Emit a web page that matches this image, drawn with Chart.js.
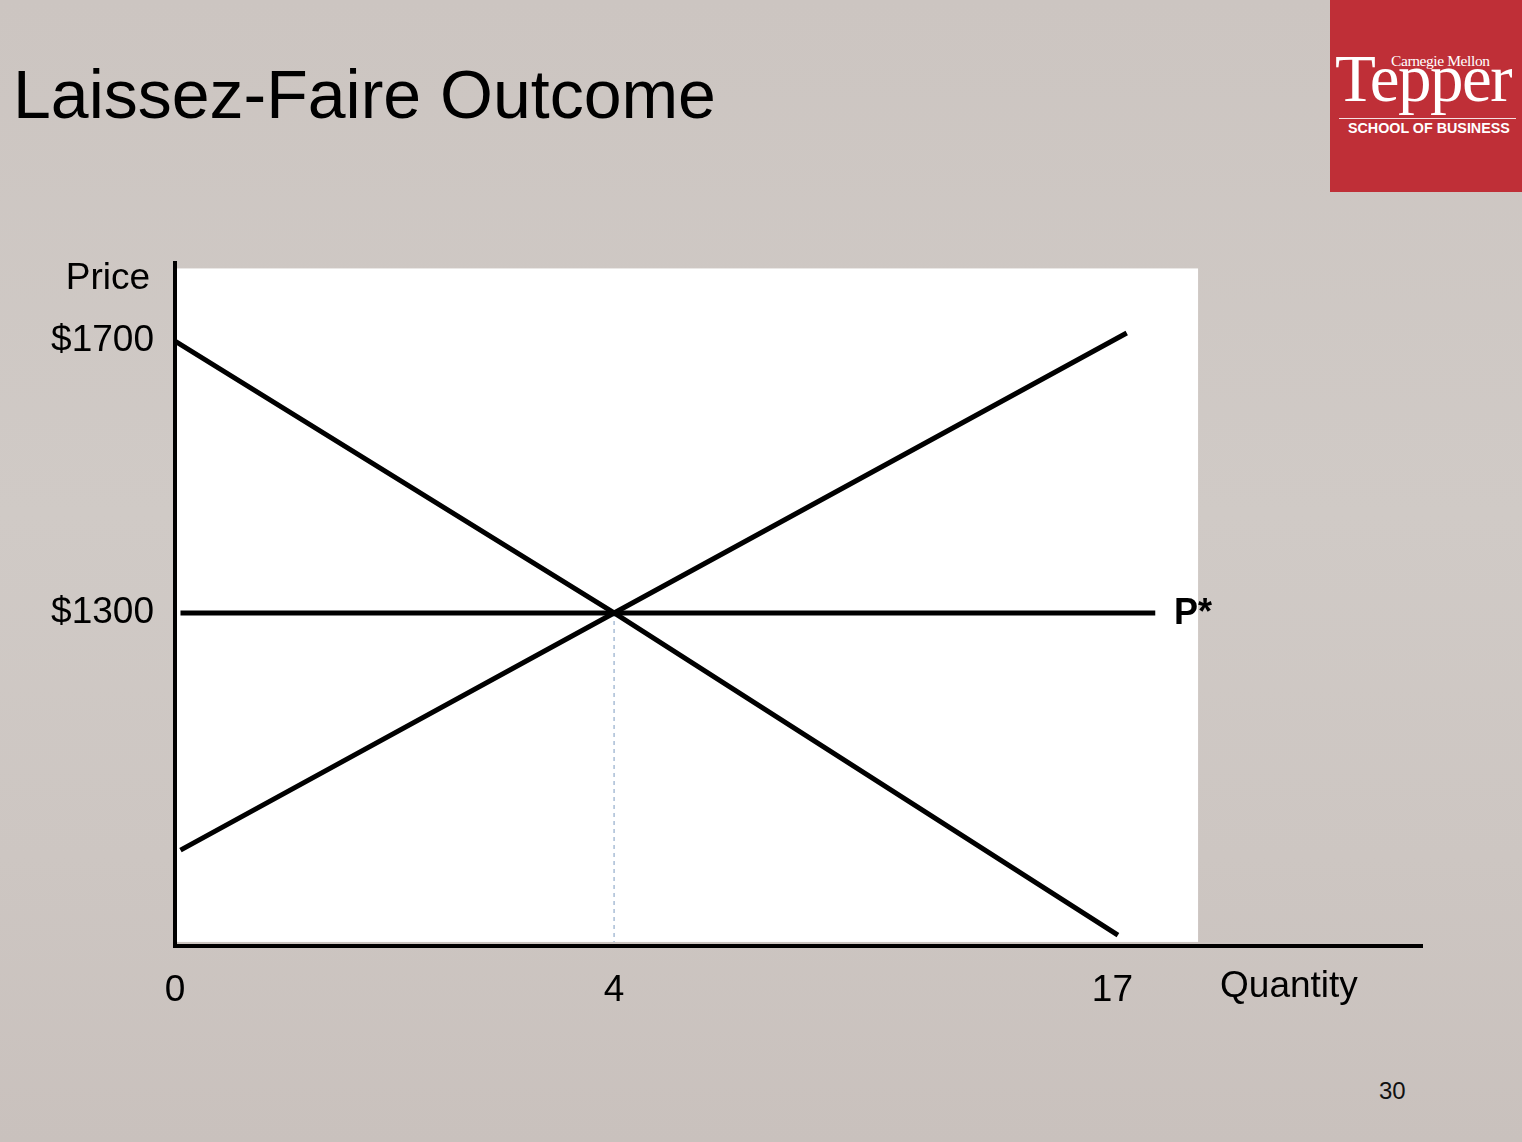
<!DOCTYPE html>
<html>
<head>
<meta charset="utf-8">
<script src="https://cdn.jsdelivr.net/npm/chart.js@4/dist/chart.umd.min.js"></script>
<style>
  html, body { margin: 0; padding: 0; width: 1522px; height: 1142px; overflow: hidden; }
  body {
    position: relative;
    background: linear-gradient(180deg, #ccc5c1 0%, #d0cac6 45%, #cdc6c2 75%, #c9c1bd 100%);
    font-family: "Liberation Sans", Arial, Helvetica, sans-serif;
  }
  .abs { position: absolute; white-space: nowrap; }
  #title { left: 13px; top: 60px; font-size: 68px; line-height: 68px; color: #000; }
  #page { left: 1379px; top: 1079px; font-size: 24px; line-height: 24px; color: #111; }
  #logo { left: 1330px; top: 0; width: 192px; height: 192px; background: #bf2f37; }
  #tepper { left: 1335px; top: 45px; font-family: "Liberation Serif", "Times New Roman", serif; font-size: 67px; line-height: 67px; color: #fff; letter-spacing: -1.5px; }
  #cmu { left: 1391px; top: 53px; font-family: "Liberation Serif", "Times New Roman", serif; font-size: 15.5px; line-height: 15px; color: #fff; letter-spacing: -0.4px; }
  #rule { left: 1339px; top: 118px; width: 177px; height: 1px; background: rgba(255,255,255,0.85); }
  #school { left: 1348px; top: 121px; font-size: 14.3px; line-height: 14px; font-weight: bold; color: #fff; }
  #chart { position: absolute; left: 0; top: 0; }
</style>
</head>
<body>
<div id="title" class="abs">Laissez-Faire Outcome</div>
<div id="logo" class="abs"></div>
<div id="tepper" class="abs">Tepper</div>
<div id="cmu" class="abs">Carnegie Mellon</div>
<div id="rule" class="abs"></div>
<div id="school" class="abs">SCHOOL OF BUSINESS</div>
<div id="page" class="abs">30</div>
<canvas id="chart" width="1522" height="1142"></canvas>
<script>
// ---- Data (diagram positions along the quantity axis, prices in $) ----
const demandQ = [0, 4, 8.59];
const demandP = [1700, 1300, 826];
const supplyQ = [0.05, 4, 8.67];
const supplyP = [951, 1300, 1712];
const priceLineQ = [0.05, 8.93];
const priceLineP = [1300, 1300];
const equilibriumQ = [4, 4];
const equilibriumP = [1300, 816];

const xTickValues = [0, 4, 8.54];
const xTickLabels = ["0", "4", "17"];
const yTickValues = [1300, 1700];
const yTickLabels = ["$1300", "$1700"];

const xAxisName = "Quantity";
const yAxisName = "Price";
const priceLabel = "P*";

function pts(qs, ps) { return qs.map((q, i) => ({ x: q, y: ps[i] })); }

const FONT = '"Liberation Sans", Arial, Helvetica, sans-serif';

const panelPlugin = {
  id: 'panel',
  beforeDraw(chart) {
    const { ctx, scales: { x, y } } = chart;
    const x0 = x.getPixelForValue(0) + 1;
    const x1 = x.getPixelForValue(9.32);
    const y0 = y.getPixelForValue(1807);
    const y1 = y.getPixelForValue(816);
    ctx.save();
    ctx.fillStyle = '#ffffff';
    ctx.fillRect(x0, y0, x1 - x0, y1 - y0);
    ctx.restore();
  },
  afterDraw(chart) {
    const { ctx, scales: { x, y } } = chart;
    ctx.save();
    ctx.fillStyle = '#000';
    ctx.textBaseline = 'middle';
    ctx.font = '37px ' + FONT;
    ctx.textAlign = 'right';
    ctx.fillText(yAxisName, 150, y.getPixelForValue(1792));
    ctx.textAlign = 'left';
    ctx.fillText(xAxisName, x.getPixelForValue(9.52), 987);
    ctx.font = 'bold 36px ' + FONT;
    ctx.fillText(priceLabel, x.getPixelForValue(9.1), y.getPixelForValue(1298));
    ctx.restore();
  }
};

new Chart(document.getElementById('chart'), {
  type: 'scatter',
  data: {
    datasets: [
      {
        label: 'Equilibrium quantity',
        data: pts(equilibriumQ, equilibriumP),
        showLine: true,
        borderColor: '#a8bdd6',
        borderWidth: 1.5,
        borderDash: [4, 4],
        pointRadius: 0,
        order: 4
      },
      {
        label: 'P*',
        data: pts(priceLineQ, priceLineP),
        showLine: true,
        borderColor: '#000',
        borderWidth: 5,
        pointRadius: 0,
        order: 3
      },
      {
        label: 'Demand',
        data: pts(demandQ, demandP),
        showLine: true,
        borderColor: '#000',
        borderWidth: 5,
        pointRadius: 0,
        tension: 0,
        order: 2
      },
      {
        label: 'Supply',
        data: pts(supplyQ, supplyP),
        showLine: true,
        borderColor: '#000',
        borderWidth: 5,
        pointRadius: 0,
        tension: 0,
        order: 1
      }
    ]
  },
  options: {
    responsive: false,
    animation: false,
    events: [],
    layout: { padding: { left: 0, top: 263, right: 100, bottom: 0 } },
    plugins: { legend: { display: false }, tooltip: { enabled: false } },
    scales: {
      x: {
        type: 'linear',
        min: 0,
        max: 11.36,
        grid: { display: false, drawTicks: false },
        border: { display: true, color: '#000', width: 4 },
        afterBuildTicks(scale) { scale.ticks = xTickValues.map(v => ({ value: v })); },
        afterFit(scale) { scale.height = 196; },
        ticks: {
          autoSkip: false,
          maxRotation: 0,
          padding: 23,
          color: '#000',
          font: { family: FONT, size: 37 },
          callback(value) {
            const i = xTickValues.indexOf(value);
            return i >= 0 ? xTickLabels[i] : '';
          }
        }
      },
      y: {
        type: 'linear',
        min: 810,
        max: 1815,
        grid: { display: false, drawTicks: false },
        border: { display: true, color: '#000', width: 4 },
        afterBuildTicks(scale) { scale.ticks = yTickValues.map(v => ({ value: v })); },
        afterFit(scale) { scale.width = 175; },
        ticks: {
          autoSkip: false,
          padding: 21,
          color: '#000',
          font: { family: FONT, size: 37 },
          callback(value) {
            const i = yTickValues.indexOf(value);
            return i >= 0 ? yTickLabels[i] : '';
          }
        }
      }
    }
  },
  plugins: [panelPlugin]
});
</script>
</body>
</html>
